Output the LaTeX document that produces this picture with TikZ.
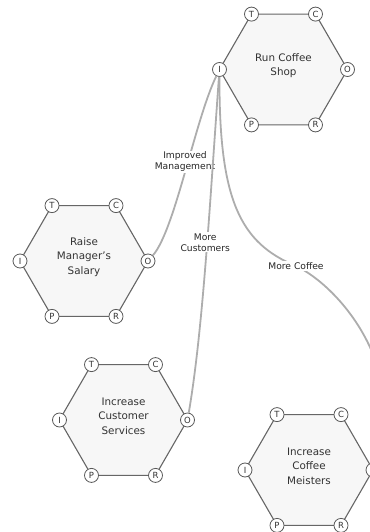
\documentclass[tikz,border=0pt]{standalone}
\usepackage{fontspec}
\setmainfont{DejaVu Sans}
\usetikzlibrary{shapes.geometric,calc}

% A goal hexagon with its six ports T, C, O, R, P, I
\newcommand\goalhex[3]{%
  \node[hexbox] (#1) at (#2) {};
  \node[title] (#1-txt) at ($(#1.center)+(0,-4)$) {#3};
  \node[port] (#1-T) at ($(#1.center)+(-32,-55.4)$) {T};
  \node[port] (#1-C) at ($(#1.center)+(32,-55.4)$) {C};
  \node[port] (#1-I) at ($(#1.center)+(-64,0)$) {I};
  \node[port] (#1-O) at ($(#1.center)+(64,0)$) {O};
  \node[port] (#1-P) at ($(#1.center)+(-32,55.4)$) {P};
  \node[port] (#1-R) at ($(#1.center)+(32,55.4)$) {R};
}

\begin{document}
\begin{tikzpicture}[x=1bp,y=-1bp,
  hexbox/.style={regular polygon, regular polygon sides=6, minimum size=128bp,
    inner sep=0pt, outer sep=0pt, draw=black!60, line width=1.1bp, fill=black!3},
  port/.style={circle, draw=black!65, fill=white, line width=0.8bp,
    minimum size=14bp, inner sep=0pt, font=\fontsize{8.5}{8.5}\selectfont, text=black!80},
  title/.style={align=center, font=\fontsize{10.4}{14.5}\selectfont, text=black!80},
  link/.style={draw=black!32, line width=1.8bp},
  tag/.style={fill=white, inner sep=1pt, align=center,
    font=\fontsize{9.2}{11}\selectfont, text=black!85}
]
\useasboundingbox (0,0) rectangle (369,532);

\goalhex{shop}{283.5,69.5}{Run Coffee\\Shop}
\goalhex{salary}{84,261}{Raise\\Manager's\\Salary}
\goalhex{service}{123.5,420}{Increase\\Customer\\Services}
\goalhex{meister}{309,470}{Increase\\Coffee\\Meisters}

% contributions into the shop's input
\draw[link] (shop-I) .. controls (195,120) and (175,230) .. (salary-O)
  node[tag, pos=0.45, xshift=-3bp] (lbl-mgmt) {Improved\\Management};
\draw[link] (shop-I) .. controls (210,200) and (203,330) .. (service-O)
  node[tag, pos=0.45, xshift=-2bp] (lbl-cust) {More\\Customers};
\coordinate (coffee-mid) at (296,266);
\draw[link] (shop-I) .. controls (219,200) and (240,243) .. (coffee-mid)
  .. controls (340,287) and (410,370) .. (meister-O);
\node[tag] (lbl-coffee) at (coffee-mid) {More Coffee};

\end{tikzpicture}
\end{document}
